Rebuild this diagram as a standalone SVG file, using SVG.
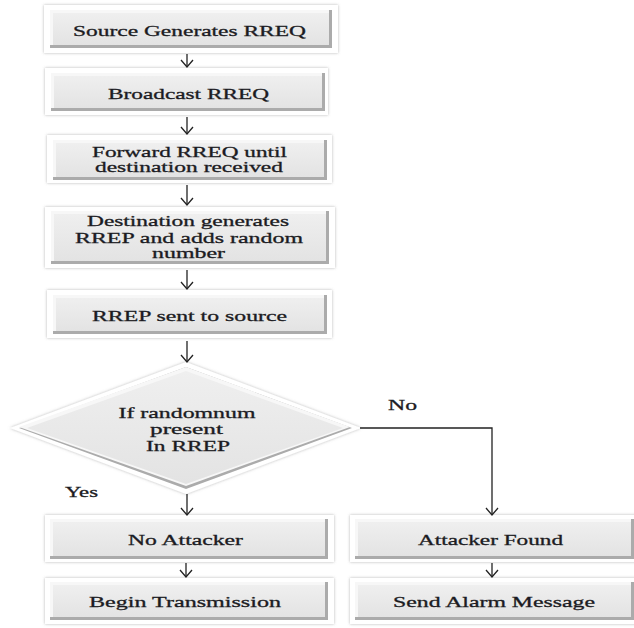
<svg xmlns="http://www.w3.org/2000/svg" width="634" height="628" viewBox="0 0 634 628">
<style>
.frame{fill:#ffffff;filter:url(#sh)}
.dark{fill:#ababab}
.light{fill:#f7f7f7}
.t{font-family:"Liberation Serif","Times New Roman",serif;font-size:15px;fill:#1b1b22;stroke:#1b1b22;stroke-width:0.3;text-anchor:middle}
.lbl{font-family:"Liberation Serif","Times New Roman",serif;font-size:15px;fill:#1b1b22;stroke:#1b1b22;stroke-width:0.3}
.conn{stroke:#222;stroke-width:1.3;fill:none}
</style>
<defs>
<filter id="sh" x="-10%" y="-30%" width="120%" height="160%">
<feDropShadow dx="0" dy="0" stdDeviation="1.8" flood-color="#7a7a7a" flood-opacity="0.55"/>
</filter>
<linearGradient id="fg" x1="0" y1="0" x2="0" y2="1">
<stop offset="0" stop-color="#efefef"/>
<stop offset="1" stop-color="#e3e3e3"/>
</linearGradient>
<marker id="arr" viewBox="-1 -1 10 14" refX="7" refY="6" markerWidth="10" markerHeight="14" markerUnits="userSpaceOnUse" orient="auto">
<path d="M0,0 L7,6 L0,12" fill="none" stroke="#222" stroke-width="1.3"/>
</marker>
</defs>
<rect width="634" height="628" fill="#ffffff"/>

<g id="n1">
<rect class="frame" x="44" y="5" width="294" height="48"/>
<rect class="dark" x="50" y="10" width="282" height="38"/>
<rect class="light" x="50" y="10" width="279" height="35"/>
<rect x="53" y="13" width="276" height="32" fill="url(#fg)"/>
<text class="t" x="189.5" y="36" textLength="233" lengthAdjust="spacingAndGlyphs">Source Generates RREQ</text>
</g>

<g id="n2">
<rect class="frame" x="45" y="68" width="283" height="47"/>
<rect class="dark" x="51" y="73" width="274" height="38"/>
<rect class="light" x="51" y="73" width="271" height="35"/>
<rect x="54" y="76" width="268" height="32" fill="url(#fg)"/>
<text class="t" x="188.5" y="99" textLength="161" lengthAdjust="spacingAndGlyphs">Broadcast RREQ</text>
</g>

<g id="n3">
<rect class="frame" x="47" y="135" width="285" height="48"/>
<rect class="dark" x="53" y="140" width="274" height="40"/>
<rect class="light" x="53" y="140" width="271" height="37"/>
<rect x="56" y="143" width="268" height="34" fill="url(#fg)"/>
<text class="t" x="189.5" y="157" textLength="195" lengthAdjust="spacingAndGlyphs">Forward RREQ until</text>
<text class="t" x="189" y="172" textLength="188" lengthAdjust="spacingAndGlyphs">destination received</text>
</g>

<g id="n4">
<rect class="frame" x="45" y="207" width="290" height="61"/>
<rect class="dark" x="51" y="211" width="278" height="53"/>
<rect class="light" x="51" y="211" width="275" height="50"/>
<rect x="54" y="214" width="272" height="47" fill="url(#fg)"/>
<text class="t" x="188" y="226" textLength="202" lengthAdjust="spacingAndGlyphs">Destination generates</text>
<text class="t" x="189" y="243" textLength="228" lengthAdjust="spacingAndGlyphs">RREP and adds random</text>
<text class="t" x="188.5" y="258" textLength="73" lengthAdjust="spacingAndGlyphs">number</text>
</g>

<g id="n5">
<rect class="frame" x="47" y="290" width="285" height="48"/>
<rect class="dark" x="53" y="295" width="274" height="39"/>
<rect class="light" x="53" y="295" width="271" height="36"/>
<rect x="56" y="298" width="268" height="33" fill="url(#fg)"/>
<text class="t" x="189.5" y="321" textLength="195" lengthAdjust="spacingAndGlyphs">RREP sent to source</text>
</g>

<g id="n6">
<polygon class="frame" points="186,362 361,428 186,494 10,428"/>
<polygon class="dark" points="186,367 352,428 186,489 19,428"/>
<polygon class="light" points="186,367 350,427 186,486 19,427"/>
<polygon points="186,371 343,428 186,484 27,428" fill="url(#fg)"/>
<text class="t" x="187" y="418" textLength="137" lengthAdjust="spacingAndGlyphs">If randomnum</text>
<text class="t" x="186.5" y="434" textLength="73" lengthAdjust="spacingAndGlyphs">present</text>
<text class="t" x="188" y="451" textLength="84" lengthAdjust="spacingAndGlyphs">In RREP</text>
</g>

<g id="n7">
<rect class="frame" x="45" y="515" width="289" height="47"/>
<rect class="dark" x="50" y="519" width="278" height="40"/>
<rect class="light" x="50" y="519" width="275" height="37"/>
<rect x="53" y="522" width="272" height="34" fill="url(#fg)"/>
<text class="t" x="185.5" y="545" textLength="115" lengthAdjust="spacingAndGlyphs">No Attacker</text>
</g>

<g id="n8">
<rect class="frame" x="45" y="578" width="289" height="46"/>
<rect class="dark" x="50" y="582" width="278" height="38"/>
<rect class="light" x="50" y="582" width="275" height="35"/>
<rect x="53" y="585" width="272" height="32" fill="url(#fg)"/>
<text class="t" x="185" y="607" textLength="192" lengthAdjust="spacingAndGlyphs">Begin Transmission</text>
</g>

<g id="n9">
<rect class="frame" x="350" y="515" width="292" height="47"/>
<rect class="dark" x="355" y="519" width="279" height="40"/>
<rect class="light" x="355" y="519" width="276" height="37"/>
<rect x="358" y="522" width="273" height="34" fill="url(#fg)"/>
<text class="t" x="490.5" y="545" textLength="145" lengthAdjust="spacingAndGlyphs">Attacker Found</text>
</g>

<g id="n10">
<rect class="frame" x="350" y="578" width="292" height="46"/>
<rect class="dark" x="355" y="582" width="279" height="38"/>
<rect class="light" x="355" y="582" width="276" height="35"/>
<rect x="358" y="585" width="273" height="32" fill="url(#fg)"/>
<text class="t" x="494" y="607" textLength="202" lengthAdjust="spacingAndGlyphs">Send Alarm Message</text>
</g>

<g id="connectors">
<line class="conn" x1="187" y1="54" x2="187" y2="67" marker-end="url(#arr)"/>
<line class="conn" x1="187" y1="117" x2="187" y2="134" marker-end="url(#arr)"/>
<line class="conn" x1="187" y1="185" x2="187" y2="205" marker-end="url(#arr)"/>
<line class="conn" x1="187" y1="270" x2="187" y2="289" marker-end="url(#arr)"/>
<line class="conn" x1="187" y1="341" x2="187" y2="362" marker-end="url(#arr)"/>
<line class="conn" x1="187" y1="494" x2="187" y2="515" marker-end="url(#arr)"/>
<polyline class="conn" points="360,428 492,428 492,515" marker-end="url(#arr)"/>
<line class="conn" x1="186" y1="563" x2="186" y2="577" marker-end="url(#arr)"/>
<line class="conn" x1="492" y1="563" x2="492" y2="577" marker-end="url(#arr)"/>
<text class="lbl" x="388" y="410" textLength="29" lengthAdjust="spacingAndGlyphs">No</text>
<text class="lbl" x="65" y="497" textLength="33" lengthAdjust="spacingAndGlyphs">Yes</text>
</g>
</svg>
